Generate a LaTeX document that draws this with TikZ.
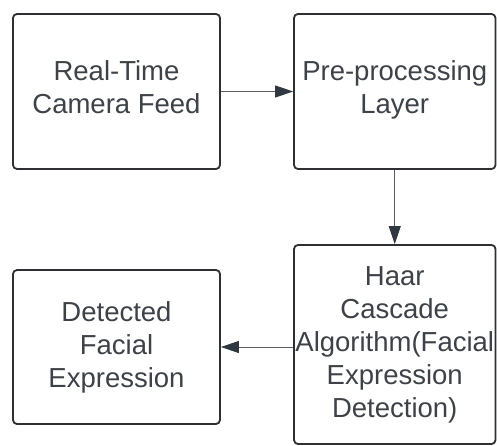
\documentclass[tikz,border=0pt]{standalone}
\usepackage{fontspec}
\setmainfont{Liberation Sans}
\usetikzlibrary{arrows.meta}

\definecolor{boxline}{HTML}{2E3033}
\definecolor{boxtext}{HTML}{3D4248}
\definecolor{linkline}{HTML}{5A5E63}
\definecolor{linktip}{HTML}{2F3740}

\tikzset{
	stage/.style={draw=boxline, line width=1.8pt, rounded corners=4pt, inner sep=0pt,
		minimum width=#1, align=center, text=boxtext,
		font=\fontsize{27.5}{33}\selectfont},
	stage/.default=207pt,
}

\begin{document}
\begin{tikzpicture}[x=1pt, y=-1pt, line width=0.9pt, draw=linkline,
	arrows={-Triangle[length=18pt,width=12pt,color=linktip]}]
	\useasboundingbox (0,0) rectangle (497,446);
	\node[stage, minimum height=155pt] (feed) at (116.5,91.5) {Real-Time\\Camera Feed\\[-25pt]};
	\node[stage=201.5pt, minimum height=155pt] (pre) at (394.75,91.5) {Pre-processing\\Layer\\[-25pt]};
	\node[stage=201.5pt, minimum height=199pt] (haar) at (394.75,344.5) {Haar\\Cascade\\Algorithm(Facial\\Expression\\Detection)};
	\node[stage, minimum height=154pt] (out) at (116.5,347) {Detected\\Facial\\Expression};

	\draw (feed) to (pre);
	\draw (pre) to (haar);
	\draw (out.east -| haar.west) to (out.east);
\end{tikzpicture}
\end{document}
